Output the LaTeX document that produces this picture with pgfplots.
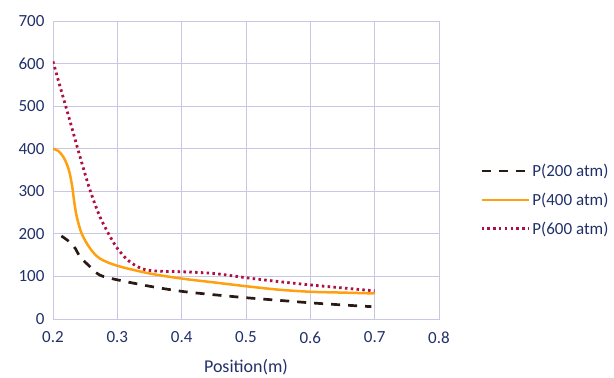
\documentclass[border=0pt]{standalone}
\usepackage{pgfplots}
\pgfplotsset{compat=1.18}
\usepackage{fontspec}
\setmainfont{Carlito}
\definecolor{txt}{HTML}{22306A}
\definecolor{gridc}{HTML}{C8C8E4}
\definecolor{c200}{HTML}{2A1A14}
\definecolor{c400}{HTML}{FFA010}
\definecolor{c600}{HTML}{B01040}
\begin{document}
\begin{tikzpicture}
\useasboundingbox (-53pt,-59pt) rectangle (561pt,319pt);
\begin{axis}[
  at={(0,0)}, anchor=south west,
  scale only axis, width=386pt, height=298pt,
  xmin=0.2, xmax=0.8, ymin=0, ymax=700,
  xtick={0.2,0.3,...,0.8}, ytick={0,100,...,700},
  xticklabel style={/pgf/number format/fixed, /pgf/number format/precision=1, /pgf/number format/fixed zerofill, yshift=-9pt},
  /pgf/number format/assume math mode=true,
  grid=major, major grid style={gridc, line width=0.8pt},
  axis line style={gridc, line width=0.8pt},
  tick style={draw=none},
  ticklabel style={font=\fontsize{17}{19}\selectfont, text=txt},
  yticklabel style={xshift=-5pt},
  xlabel={Position(m)},
  xlabel style={font=\fontsize{18}{20}\selectfont, text=txt, yshift=-9pt},
  legend style={draw=none, fill=none, at={(1.106,0.40)}, anchor=west,
    font=\fontsize{17}{19}\selectfont, text=txt, row sep=10pt, inner sep=0pt,
    nodes={inner sep=2.5pt}},
  legend cell align=left,
  legend image code/.code={\draw[#1] (0pt,0pt) -- (47pt,0pt);},
]
\addplot[c200, line width=2.7pt, dash pattern=on 9pt off 8pt, smooth, tension=0.5] coordinates {
(0.213,195) (0.225,182) (0.235,165) (0.242,146) (0.2575,123) (0.273,103) (0.30,92) (0.35,77) (0.40,65) (0.45,57) (0.50,50) (0.55,44) (0.60,38) (0.65,33) (0.695,29)};
\addlegendentry{P(200 atm)}
\addplot[c400, line width=2.5pt, smooth, tension=0.5] coordinates {
(0.200,400) (0.208,395) (0.216,381) (0.222,362) (0.226,342) (0.230,310) (0.233,275) (0.237,240) (0.2445,201) (0.2575,166) (0.273,142) (0.30,125) (0.35,107) (0.40,95) (0.45,86) (0.50,77) (0.55,69) (0.60,64) (0.65,62) (0.70,60)};
\addlegendentry{P(400 atm)}
\addplot[c600, line width=2.8pt, dash pattern=on 2.5pt off 3.3pt, smooth, tension=0.5] coordinates {
(0.200,605) (0.211,546) (0.226,467) (0.242,381) (0.2575,303) (0.273,240) (0.289,193) (0.30,166) (0.315,140) (0.33,124) (0.345,115) (0.37,112) (0.40,111) (0.45,107) (0.50,97) (0.55,88) (0.60,80) (0.65,73) (0.70,66)};
\addlegendentry{P(600 atm)}
\end{axis}
\end{tikzpicture}
\end{document}
